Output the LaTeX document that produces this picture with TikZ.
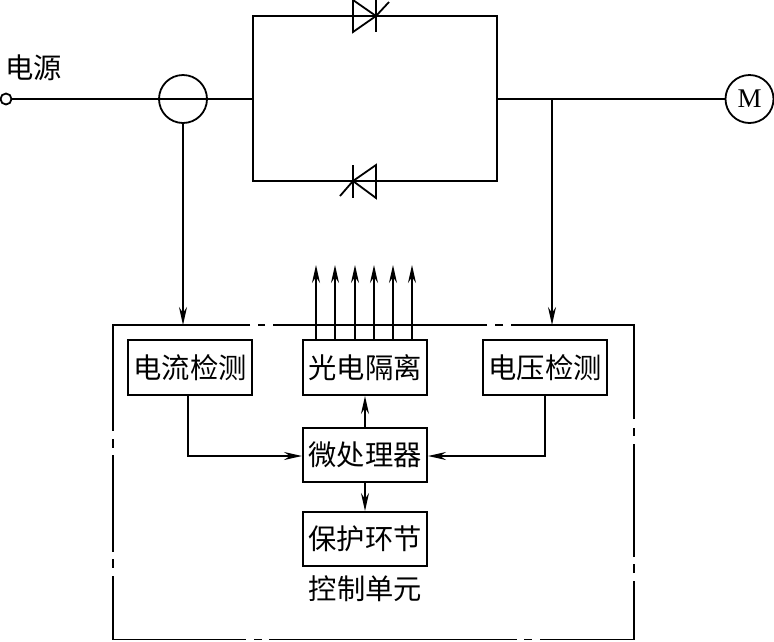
\documentclass[tikz,border=0pt]{standalone}
\usepackage{fontspec}
\setmainfont{Liberation Serif}
\newfontfamily\cjk{Noto Sans CJK SC}
\usetikzlibrary{arrows.meta,calc}
\tikzset{
  every path/.style={line width=1.8pt,line join=miter},
  wire/.style={draw=black},
  sig/.style={draw=black,-{Stealth[length=18pt,width=8pt,inset=6pt]}},
  blockbox/.style={draw=black,line width=2pt,minimum width=124pt,inner sep=0pt,font=\cjk\fontsize{28.3}{30}\selectfont},
  caption/.style={inner sep=0pt,font=\cjk\fontsize{28.3}{30}\selectfont},
  ring/.style={circle,draw=black,inner sep=0pt,line width=1.8pt}
}
\begin{document}
\begin{tikzpicture}[x=1pt,y=-1pt]
\useasboundingbox (0,0) rectangle (774,641);
\fill[white] (0,0) rectangle (774,641);

% supply line and sensing elements
\node[ring,minimum size=11pt] (src) at (6,99) {};
\node[ring,minimum size=48pt] (ct) at (183,99) {};
\node[ring,minimum size=48pt,font=\fontsize{27}{27}\selectfont] (motor) at (749.5,99) {M};
\coordinate (bl) at (253,99);
\coordinate (br) at (497,99);
\coordinate (tap) at (552,99);
\node[caption,anchor=west] (srclabel) at (4.5,68) {电源};

\draw[wire] (src.east) -- (bl);
\draw[wire] (br) -- (motor.west);

% anti-parallel thyristor pair
\draw[wire] (bl) -- (253,16) -- (497,16) -- (br);
\draw[wire] (bl) -- (253,181) -- (497,181) -- (br);
\draw[wire] (353,0) -- (376,16) -- (353,32) -- cycle;
\draw[wire] (376,0) -- (376,32);
\draw[wire] (376,16) -- (389,2);
\draw[wire] (376,165) -- (353,181) -- (376,198) -- cycle;
\draw[wire] (353,165) -- (353,198);
\draw[wire] (353,181) -- (340,196);

% control unit blocks
\node[blockbox,minimum height=55pt] (idet) at (190,367.5) {电流检测};
\node[blockbox,minimum height=55pt] (iso) at (365,367.5) {光电隔离};
\node[blockbox,minimum height=55pt] (vdet) at (545,367.5) {电压检测};
\node[blockbox,minimum height=54pt] (mcu) at (365,455) {微处理器};
\node[blockbox,minimum height=54pt] (prot) at (365,539) {保护环节};
\node[caption] (unit) at (365.5,589) {控制单元};

% control unit border, a long-dash-short-dash outline
\draw[wire] (250,325) -- (113,325) -- (113,431);
\draw[wire] (113,439) -- (113,448);
\draw[wire] (113,455) -- (113,552);
\draw[wire] (113,559) -- (113,568);
\draw[wire] (113,576) -- (113,639.5) -- (246,639.5);
\draw[wire] (254,639.5) -- (262,639.5);
\draw[wire] (269,639.5) -- (517,639.5);
\draw[wire] (524,639.5) -- (532,639.5);
\draw[wire] (540,639.5) -- (634,639.5) -- (634,581);
\draw[wire] (634,573) -- (634,564);
\draw[wire] (634,557) -- (634,444);
\draw[wire] (634,436) -- (634,428);
\draw[wire] (634,419) -- (634,325) -- (511,325);
\draw[wire] (503,325) -- (495,325);
\draw[wire] (487,325) -- (273,325);
\draw[wire] (265,325) -- (258,325);

% sensing connections into the control unit
\coordinate (iin) at (183,325);
\coordinate (vin) at (552,325);
\draw[sig] (ct.south) -- (iin);
\draw[sig] (tap) -- (vin);

% six gate drive outputs
\foreach \i/\px in {1/316,2/335,3/355,4/374,5/393,6/412}{
  \coordinate (out\i) at (\px,265);
  \draw[sig] (\px,340) -- (out\i);
}

% signal flow around the microprocessor
\draw[sig] (mcu.north) -- (iso.south);
\draw[sig] (mcu.south) -- (prot.north);
\draw[sig] (idet.south -| 188,0) -- (188,456) -- (mcu.west |- 0,456);
\draw[sig] (vdet.south) -- (545,456) -- (mcu.east |- 0,456);
\end{tikzpicture}
\end{document}
